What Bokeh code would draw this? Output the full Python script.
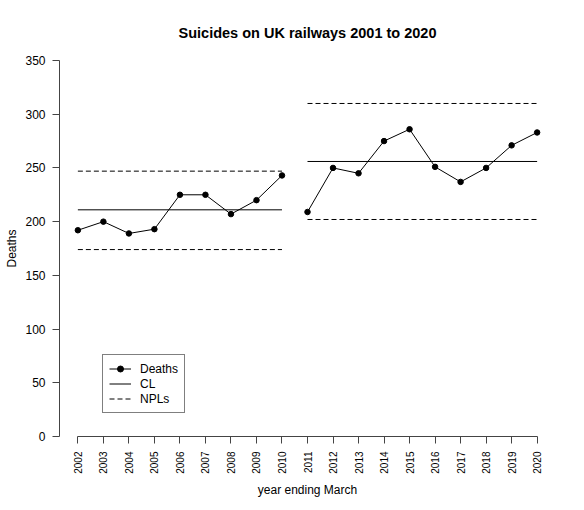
import math
from bokeh.plotting import figure
from bokeh.models import Range1d, FixedTicker, Legend, LegendItem
from bokeh.embed import file_html
from bokeh.resources import INLINE

# ---- data ----
years_a = [2002, 2003, 2004, 2005, 2006, 2007, 2008, 2009, 2010]
deaths_a = [192, 200, 189, 193, 225, 225, 207, 220, 243]
years_b = [2011, 2012, 2013, 2014, 2015, 2016, 2017, 2018, 2019, 2020]
deaths_b = [209, 250, 245, 275, 286, 251, 237, 250, 271, 283]

period_start = [2002, 2011]
period_end = [2010, 2020]
cl = [211, 256]
upper_npl = [247, 310]
lower_npl = [174, 202]

x_ticks = list(range(2002, 2021))
y_ticks = [0, 50, 100, 150, 200, 250, 300, 350]

FONT = "Liberation Sans"

p = figure(width=574, height=500,
           x_range=Range1d(2001.28, 2020.72), y_range=Range1d(0, 350),
           output_backend="svg", toolbar_location=None,
           min_border_left=59, min_border_right=19,
           min_border_top=60, min_border_bottom=64,
           title="Suicides on UK railways 2001 to 2020")
p.outline_line_color = None
p.xgrid.grid_line_color = None
p.ygrid.grid_line_color = None
p.background_fill_color = "white"
p.border_fill_color = "white"

p.title.text_font = FONT
p.title.text_font_size = "14.5px"
p.title.text_font_style = "bold"
p.title.text_color = "black"
p.title.align = "center"
p.title.standoff = 40

xa = p.xaxis[0]
xa.ticker = FixedTicker(ticks=x_ticks)
xa.bounds = (2002, 2020)
xa.major_label_orientation = math.pi / 2
xa.major_tick_out = 7
xa.major_tick_in = 0
xa.minor_tick_line_color = None
xa.major_label_standoff = 8
xa.major_label_text_font = FONT
xa.major_label_text_font_size = "10px"
xa.major_label_text_color = "black"
xa.axis_label = "year ending March"
xa.axis_label_text_font = FONT
xa.axis_label_text_font_size = "12px"
xa.axis_label_text_font_style = "normal"
xa.axis_label_text_color = "black"
xa.axis_label_standoff = 6
xa.axis_line_color = "#444444"
xa.major_tick_line_color = "#444444"

ya = p.yaxis[0]
ya.ticker = FixedTicker(ticks=y_ticks)
ya.bounds = (0, 350)
ya.major_tick_out = 7
ya.major_tick_in = 0
ya.minor_tick_line_color = None
ya.major_label_standoff = 7
ya.major_label_text_font = FONT
ya.major_label_text_font_size = "12px"
ya.major_label_text_color = "black"
ya.major_label_orientation = "horizontal"
ya.axis_label = "Deaths"
ya.axis_label_text_font = FONT
ya.axis_label_text_font_size = "12px"
ya.axis_label_text_font_style = "normal"
ya.axis_label_text_color = "black"
ya.axis_label_standoff = 3
ya.axis_line_color = "#444444"
ya.major_tick_line_color = "#444444"

# centre lines and natural process limits
r_cl = p.segment(x0=period_start, x1=period_end, y0=cl, y1=cl,
                 line_color="black", line_width=1)
r_u = p.segment(x0=period_start, x1=period_end, y0=upper_npl, y1=upper_npl,
                line_color="black", line_width=1, line_dash="5 3")
p.segment(x0=period_start, x1=period_end, y0=lower_npl, y1=lower_npl,
          line_color="black", line_width=1, line_dash="5 3")

# deaths series
r_la = p.line(years_a, deaths_a, line_color="black", line_width=1)
p.line(years_b, deaths_b, line_color="black", line_width=1)
r_sa = p.scatter(years_a, deaths_a, size=5.5, color="black")
p.scatter(years_b, deaths_b, size=5.5, color="black")

legend = Legend(items=[
    LegendItem(label="Deaths", renderers=[r_la, r_sa]),
    LegendItem(label="CL", renderers=[r_cl]),
    LegendItem(label="NPLs", renderers=[r_u]),
], location=(43, 23))
legend.label_text_font = FONT
legend.label_text_font_size = "12px"
legend.label_text_color = "black"
legend.label_height = 15
legend.glyph_height = 15
legend.glyph_width = 22
legend.label_standoff = 9
legend.spacing = 0
legend.padding = 6
legend.margin = 0
legend.border_line_color = "black"
legend.border_line_width = 1
legend.background_fill_color = "white"
legend.background_fill_alpha = 1
p.add_layout(legend)

open("out.html", "w").write(file_html(p, INLINE))
